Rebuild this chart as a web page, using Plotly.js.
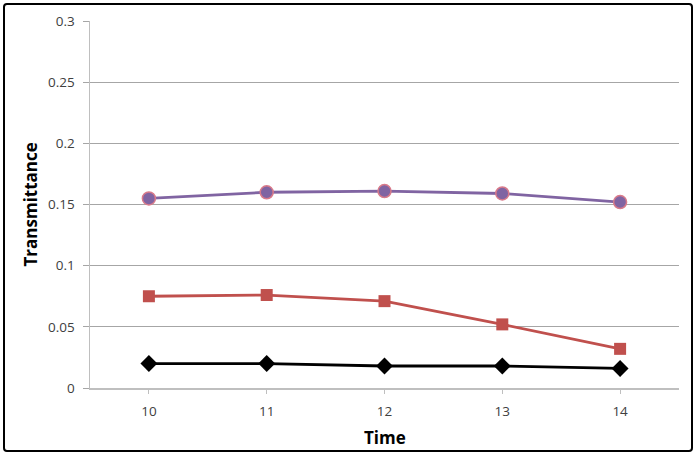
<!DOCTYPE html>
<html>
<head>
<meta charset="utf-8">
<script src="https://cdn.plot.ly/plotly-3.0.1.min.js"></script>
<style>
html,body{margin:0;padding:0;background:#fff;}
#wrap{position:relative;width:695px;height:454px;}
#chart{width:695px;height:454px;}
#frame{position:absolute;left:3px;top:3px;width:686px;height:445px;border:2px solid #000;border-radius:4px;pointer-events:none;}
</style>
</head>
<body>
<div id="wrap"><div id="chart"></div><div id="frame"></div></div>
<script>
const time = [10, 11, 12, 13, 14];
const purpleSeries = [0.155, 0.160, 0.161, 0.159, 0.152];
const redSeries = [0.075, 0.076, 0.071, 0.052, 0.032];
const blackSeries = [0.020, 0.020, 0.018, 0.018, 0.016];
const xTickLabels = ['10', '11', '12', '13', '14'];
const yTickVals = [0, 0.05, 0.1, 0.15, 0.2, 0.25, 0.3];
const yTickLabels = ['0', '0.05', '0.1', '0.15', '0.2', '0.25', '0.3'];
const xTitle = 'Time';
const yTitle = 'Transmittance';

const traces = [
  {x: time, y: blackSeries, mode: 'lines+markers', line: {color: '#000000', width: 2.8},
   marker: {symbol: 'diamond', size: 13, color: '#000000'}},
  {x: time, y: redSeries, mode: 'lines+markers', line: {color: '#C0504D', width: 2.8},
   marker: {symbol: 'square', size: 12, color: '#C0504D'}},
  {x: time, y: purpleSeries, mode: 'lines+markers', line: {color: '#8064A2', width: 2.8},
   marker: {symbol: 'circle', size: 13, color: '#8064A2', line: {color: '#D97A8A', width: 1.5}}}
];

const fam = '"Open Sans", "Liberation Sans", sans-serif';
const tickFont = {family: fam, size: 13.5, color: '#404040'};
const titleFont = {family: fam, size: 17, color: '#000000'};
const layout = {
  width: 695, height: 454,
  margin: {l: 90, r: 16, t: 21, b: 66},
  showlegend: false,
  paper_bgcolor: '#ffffff', plot_bgcolor: '#ffffff',
  font: tickFont,
  xaxis: {
    range: [9.5, 14.5], tickvals: time, ticktext: xTickLabels,
    showgrid: false, zeroline: false, showline: true, linecolor: '#BFBFBF', linewidth: 1.5,
    ticks: 'outside', ticklen: 4, tickcolor: '#BFBFBF', ticklabelstandoff: 6,
    tickfont: tickFont
  },
  yaxis: {
    range: [0, 0.3], tickvals: yTickVals, ticktext: yTickLabels,
    showgrid: true, gridcolor: '#A6A6A6', gridwidth: 1,
    zeroline: false, showline: true, linecolor: '#BFBFBF', linewidth: 1.5,
    ticks: 'outside', ticklen: 6, tickcolor: '#A6A6A6', ticklabelstandoff: 5,
    tickfont: tickFont
  },
  annotations: [
    {text: '<b>' + xTitle + '</b>', xref: 'paper', yref: 'paper', x: 0.5, y: 0,
     xanchor: 'center', yanchor: 'middle', yshift: -49, showarrow: false, font: titleFont},
    {text: '<b>' + yTitle + '</b>', xref: 'paper', yref: 'paper', x: 0, y: 0.5,
     xanchor: 'center', yanchor: 'middle', xshift: -60, textangle: -90, showarrow: false, font: titleFont}
  ]
};
Plotly.newPlot('chart', traces, layout, {displayModeBar: false, staticPlot: true});
</script>
</body>
</html>
